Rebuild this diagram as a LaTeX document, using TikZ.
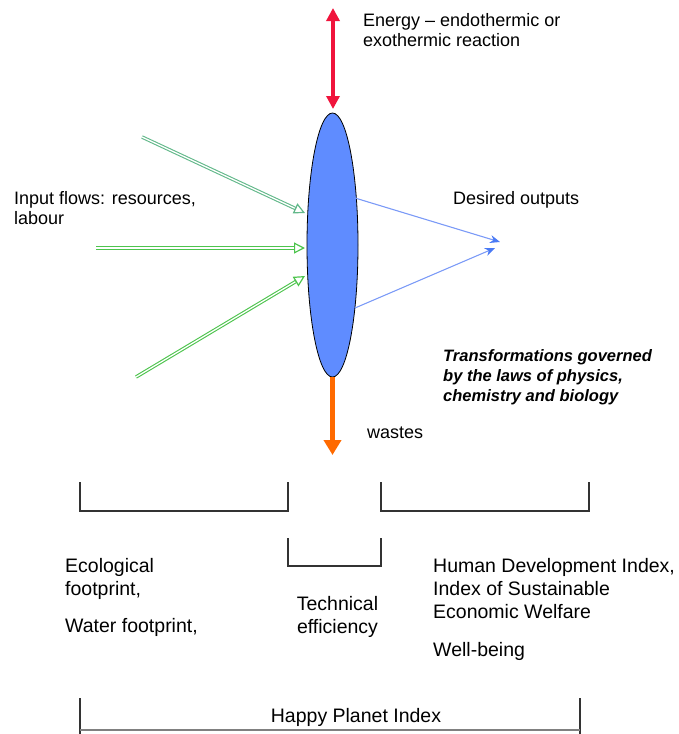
\documentclass[tikz,border=0pt]{standalone}
\usepackage{fontspec}
\setmainfont{Liberation Sans}
\usetikzlibrary{arrows.meta,shapes.geometric,calc}
\definecolor{lensblue}{HTML}{5F8CFF}
\definecolor{energyred}{HTML}{F0143C}
\definecolor{wasteorange}{HTML}{FF6A00}
\definecolor{teal}{HTML}{62B88A}
\definecolor{ingreen}{HTML}{4DC44D}
\definecolor{outblue}{HTML}{7B9AF7}
\definecolor{outtip}{HTML}{4A7AF5}
\definecolor{brk}{HTML}{333333}
\tikzset{
  toplabel/.style={inner sep=0pt, font=\fontsize{18}{20}\selectfont, align=left},
  botlabel/.style={inner sep=0pt, font=\fontsize{19.5}{23}\selectfont, align=left},
  italiclabel/.style={inner sep=0pt, font=\fontsize{16.5}{20}\selectfont\bfseries\itshape, align=left},
  inshaft/.style={line width=1.1pt, double=white, double distance=1.3pt},
  intip/.style={line width=1.2pt, -{Triangle[open, length=11pt, width=11pt]}},
  outarrow/.style={outblue, line width=1.1pt, -{Stealth[length=10pt, width=8pt, outtip]}},
  bracket/.style={brk, line width=1.1pt}
}
\begin{document}
\begin{tikzpicture}[x=1pt,y=-1pt]
\useasboundingbox (0,0) rectangle (679,734);

% lens
\node[ellipse, draw=black, line width=0.8pt, fill=lensblue, minimum width=51pt, minimum height=264pt, inner sep=0pt] (lens) at (332.5,245) {};

% energy arrow
\coordinate (etop) at (333,8);
\coordinate (ebot) at (333,109);
\draw[energyred, line width=3.5pt, {Triangle[length=13pt, width=13pt]}-{Triangle[length=13pt, width=13pt]}] (etop) -- (ebot);

% waste arrow
\coordinate (wend) at (332.5,455);
\draw[wasteorange, line width=4.5pt, -{Triangle[length=15pt, width=17pt]}] (lens.south) -- (wend);

% input arrows
\coordinate (g1s) at (142,137);
\coordinate (g1e) at (305,213);
\coordinate (g2s) at (96,248);
\coordinate (g2e) at (305,248);
\coordinate (g3s) at (136,377);
\coordinate (g3e) at (305,276);
\draw[teal, inshaft] (g1s) -- ($(g1e)!10pt!(g1s)$);
\draw[teal, intip] ($(g1e)!11pt!(g1s)$) -- (g1e);
\draw[ingreen, inshaft] (g2s) -- ($(g2e)!10pt!(g2s)$);
\draw[ingreen, intip] ($(g2e)!11pt!(g2s)$) -- (g2e);
\draw[ingreen, inshaft] (g3s) -- ($(g3e)!10pt!(g3s)$);
\draw[ingreen, intip] ($(g3e)!11pt!(g3s)$) -- (g3e);

% output arrows
\coordinate (b1s) at (355,198);
\coordinate (b1e) at (500,242);
\coordinate (b2s) at (355,308);
\coordinate (b2e) at (495,248);
\draw[outarrow] (b1s) -- (b1e);
\draw[outarrow] (b2s) -- (b2e);

% upper labels
\node[toplabel, anchor=north west] (energy) at (363,13) {Energy -- endothermic or\\exothermic reaction};
\node[toplabel, anchor=north west] (input) at (14,191) {Input flows: resources,\\labour};
\node[toplabel, anchor=base west] (desired) at (453,204) {Desired outputs};
\node[italiclabel, anchor=north west] (transf) at (443,349) {Transformations governed\\by the laws of physics,\\chemistry and biology};
\node[toplabel, anchor=base west] (wastes) at (367,438) {wastes};

% brackets
\draw[bracket] (80,482) -- (80,511) -- (288,511) -- (288,482);
\draw[bracket] (381,482) -- (381,511) -- (589,511) -- (589,482);
\draw[bracket] (288,538) -- (288,566) -- (381,566) -- (381,538);
\draw[bracket] (80,698) -- (80,734);
\draw[bracket] (580,698) -- (580,734);
\draw[gray, line width=1.1pt] (80,730) -- (580,730);

% lower labels
\node[botlabel, anchor=north west] (eco) at (65,558) {Ecological\\footprint,};
\node[botlabel, anchor=base west] (water) at (65,632) {Water footprint,};
\node[botlabel, anchor=north, align=center] (tech) at (337.5,596) {Technical\\efficiency};
\node[botlabel, anchor=north west] (hdi) at (433,558) {Human Development Index,\\Index of Sustainable\\Economic Welfare};
\node[botlabel, anchor=base west] (well) at (433,656) {Well-being};
\node[botlabel, anchor=base] (hpi) at (356,722) {Happy Planet Index};
\end{tikzpicture}
\end{document}
